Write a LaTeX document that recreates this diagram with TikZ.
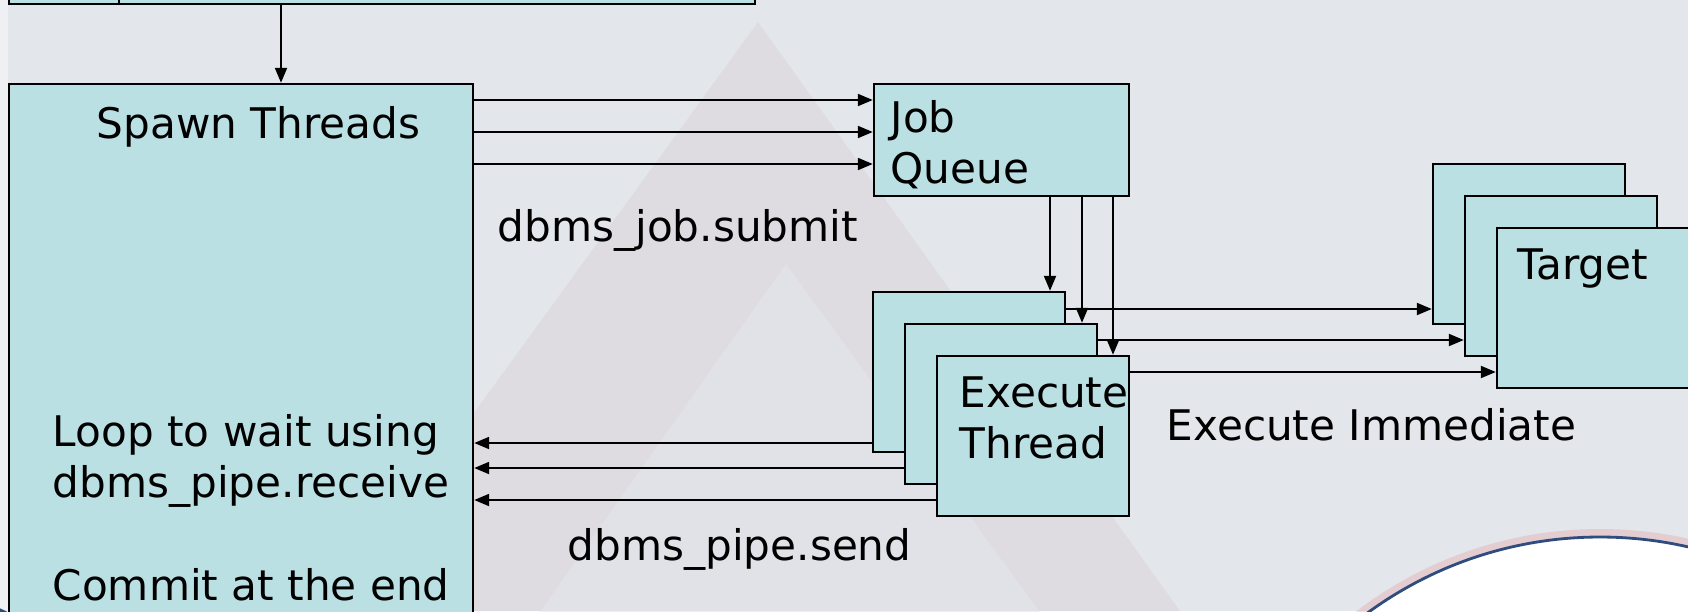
\documentclass[tikz,border=0pt]{standalone}
\usepackage{fontspec}
\setmainfont{DejaVu Sans}
\usetikzlibrary{arrows.meta}
\definecolor{boxfill}{HTML}{BAE0E3}
\definecolor{slidebg}{HTML}{E3E6EB}
\definecolor{pinkshade}{HTML}{DCD4D9}
\definecolor{ringblue}{HTML}{2F4C7E}
\begin{document}
\begin{tikzpicture}[x=0.1mm, y=-0.1mm,
    box/.style={rectangle, draw=black, line width=0.7pt, fill=boxfill, inner sep=0pt},
    thread/.style={box, minimum width=1.92cm, minimum height=1.6cm},
    txt/.style={inner sep=0pt, anchor=base west, align=left, font=\fontsize{12}{14.37}\selectfont},
    arrow/.style={line width=0.6pt, -{Triangle[length=1.5mm, width=1.2mm]}}
]
\useasboundingbox (0,0) rectangle (1688,611);
\clip (0,0) rectangle (1688,611);

% slide background
\fill[slidebg] (0,0) rectangle (1688,611);
\fill[pinkshade, opacity=0.5] (758,22) -- (1180,611) -- (330,611) -- cycle;
\fill[slidebg, opacity=0.6] (786,264) -- (1060,640) -- (520,640) -- cycle;
\fill[white, opacity=0.4] (0,0) rectangle (8,611);
\fill[ringblue] (-40,700) circle [radius=1.0cm];
\draw[pinkshade!70!red, line width=1mm, opacity=0.3] (1600,931) circle [radius=3.97cm];
\fill[white, draw=ringblue, line width=0.8pt] (1600,931) circle [radius=3.94cm];

% boxes
\node[box, minimum width=7.46cm, minimum height=0.8cm] (sqlbox) at (382,-36) {};
\node[box, minimum width=4.64cm, minimum height=6.4cm] (spawn) at (241,404) {};
\node[box, minimum width=2.55cm, minimum height=1.12cm] (jobq) at (1001.5,140) {};
\node[thread] (exec1) at (969,372) {};
\node[thread] (exec2) at (1001,404) {};
\node[thread] (exec3) at (1033,436) {};
\node[thread] (tgt1) at (1529,244) {};
\node[thread] (tgt2) at (1561,276) {};
\node[thread] (tgt3) at (1593,308) {};

% texts (multi-line ones sit on their last baseline)
\node[txt] (spawntxt) at (96,138) {Spawn Threads};
\node[txt] (looptxt) at (52,497) {Loop to wait using\\dbms\_pipe.receive};
\node[txt] (committxt) at (52,600) {Commit at the end};
\node[txt] (jobtxt) at (890,183) {Job\\Queue};
\node[txt] (submittxt) at (497,241) {dbms\_job.submit};
\node[txt] (exectxt) at (959,458) {Execute\\Thread};
\node[txt] (tgttxt) at (1517,279) {Target};
\node[txt] (immtxt) at (1166,440) {Execute Immediate};
\node[txt] (sendtxt) at (567,560) {dbms\_pipe.send};

% connectors
\draw[line width=0.7pt] (sqlbox.south -| 119,0) -- (sqlbox.north -| 119,0);
\draw[arrow] (sqlbox.south -| 281,0) -- (spawn.north -| 281,0);

% submit jobs
\draw[arrow] (spawn.east |- 0,100) -- (jobq.west |- 0,100);
\draw[arrow] (spawn.east |- 0,132) -- (jobq.west |- 0,132);
\draw[arrow] (spawn.east |- 0,164) -- (jobq.west |- 0,164);

% queue to threads
\draw[arrow] (jobq.south -| 1050,0) -- (exec1.north -| 1050,0);
\draw[arrow] (jobq.south -| 1082,0) -- (exec2.north -| 1082,0);
\draw[arrow] (jobq.south -| 1113,0) -- (exec3.north -| 1113,0);

% execute immediate
\draw[arrow] (exec1.east |- 0,309) -- (tgt1.west |- 0,309);
\draw[arrow] (exec2.east |- 0,340) -- (tgt2.west |- 0,340);
\draw[arrow] (exec3.east |- 0,372) -- (tgt3.west |- 0,372);

% pipe messages back
\draw[arrow] (exec1.west |- 0,443) -- (spawn.east |- 0,443);
\draw[arrow] (exec2.west |- 0,468) -- (spawn.east |- 0,468);
\draw[arrow] (exec3.west |- 0,500) -- (spawn.east |- 0,500);

\end{tikzpicture}
\end{document}
